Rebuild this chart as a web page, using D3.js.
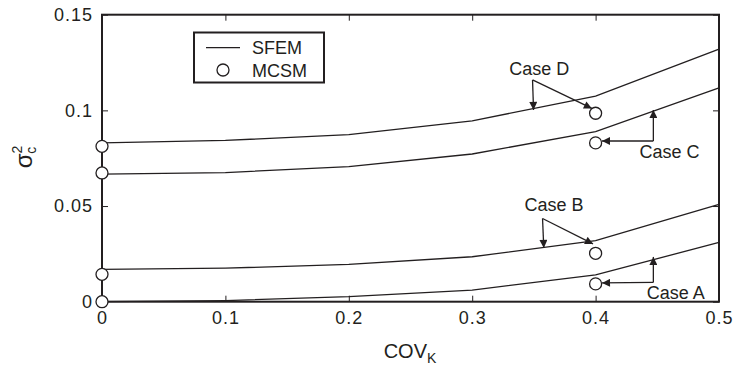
<!DOCTYPE html>
<html><head><meta charset="utf-8">
<script src="https://cdn.jsdelivr.net/npm/d3@7"></script>
<style>
body{margin:0;background:#fff;}
text{font-family:"Liberation Sans",Arial,Helvetica,sans-serif;fill:#231f20;}
</style></head>
<body><svg id="c" width="736" height="367"></svg>
<script>
const covK = [0, 0.1, 0.2, 0.3, 0.4, 0.5];
const sfemD = [0.0830, 0.0843, 0.0873, 0.0945, 0.1075, 0.1320];
const sfemC = [0.0667, 0.0675, 0.0706, 0.0772, 0.0889, 0.1118];
const sfemB = [0.0169, 0.0175, 0.0195, 0.0235, 0.0319, 0.0509];
const sfemA = [0.0000, 0.0006, 0.0026, 0.0061, 0.0140, 0.0310];
const mcsmX = [0, 0.4];
const mcsmD = [0.0812, 0.0985];
const mcsmC = [0.0673, 0.0830];
const mcsmB = [0.0143, 0.0253];
const mcsmA = [0.0000, 0.0093];
const xTicks = [0, 0.1, 0.2, 0.3, 0.4, 0.5];
const xTickLabels = ["0", "0.1", "0.2", "0.3", "0.4", "0.5"];
const yTicks = [0, 0.05, 0.1, 0.15];
const yTickLabels = ["0", "0.05", "0.1", "0.15"];
// annotations in data units
const caseLabels = ["Case D", "Case C", "Case B", "Case A"];
const caseText = [[0.3544, 0.1185], [0.4599, 0.0753], [0.3663, 0.0476], [0.4649, 0.0013]];
const caseArrows = [
  [[0.3489, 0.1159], [0.3497, 0.1002], [0.3489, 0.1159], [0.3970, 0.1010]],
  [[0.4468, 0.0840], [0.4468, 0.1002], [0.4468, 0.0840], [0.4052, 0.0840]],
  [[0.3570, 0.0435], [0.3580, 0.0281], [0.3570, 0.0435], [0.3979, 0.0302]],
  [[0.4468, 0.0101], [0.4468, 0.0234], [0.4468, 0.0101], [0.4052, 0.0098]]
];

const W = 736, H = 367;
const m = {l: 102, t: 14.7, r: 17, b: 65.3};
const svg = d3.select("#c");
const x = d3.scaleLinear().domain([0, 0.5]).range([m.l, W - m.r]);
const y = d3.scaleLinear().domain([0, 0.15]).range([H - m.b, m.t]);
const ink = "#231f20";

svg.append("defs").append("marker").attr("id", "ah")
  .attr("viewBox", "0 0 10 10").attr("refX", 10).attr("refY", 5)
  .attr("markerWidth", 11).attr("markerHeight", 8).attr("markerUnits", "userSpaceOnUse")
  .attr("orient", "auto")
  .append("path").attr("d", "M0,0 L10,5 L0,10 z").attr("fill", ink);

// axes with inward ticks
const xb = svg.append("g").attr("transform", `translate(0,${H - m.b})`)
  .call(d3.axisBottom(x).tickValues(xTicks).tickFormat((d, i) => xTickLabels[i]).tickSizeInner(-6).tickSizeOuter(0).tickPadding(10));
const xt = svg.append("g").attr("transform", `translate(0,${m.t})`)
  .call(d3.axisTop(x).tickValues(xTicks).tickFormat("").tickSizeInner(-6).tickSizeOuter(0));
const yl = svg.append("g").attr("transform", `translate(${m.l},0)`)
  .call(d3.axisLeft(y).tickValues(yTicks).tickFormat((d, i) => yTickLabels[i]).tickSizeInner(-6).tickSizeOuter(0).tickPadding(9));
const yr = svg.append("g").attr("transform", `translate(${W - m.r},0)`)
  .call(d3.axisRight(y).tickValues(yTicks).tickFormat("").tickSizeInner(-6).tickSizeOuter(0));
[xb, xt, yl, yr].forEach(g => {
  g.selectAll(".domain").remove();
  g.selectAll(".tick line").attr("stroke", ink).attr("stroke-width", 1);
  g.selectAll("text").attr("font-size", 18).attr("fill", ink)
    .attr("font-family", "Liberation Sans, Arial, sans-serif").style("letter-spacing", "1px");
});
svg.append("rect").attr("x", m.l).attr("y", m.t)
  .attr("width", W - m.r - m.l).attr("height", H - m.b - m.t)
  .attr("fill", "none").attr("stroke", ink).attr("stroke-width", 2);

// SFEM lines
const line = d3.line().x((d, i) => x(covK[i])).y(d => y(d));
[sfemD, sfemC, sfemB, sfemA].forEach(s => {
  svg.append("path").datum(s).attr("d", line).attr("fill", "none")
    .attr("stroke", ink).attr("stroke-width", 1.3);
});
// MCSM circles
[mcsmD, mcsmC, mcsmB, mcsmA].forEach(s => {
  svg.selectAll(null).data(s).enter().append("circle")
    .attr("cx", (d, i) => x(mcsmX[i])).attr("cy", d => y(d)).attr("r", 6)
    .attr("fill", "#fff").attr("stroke", ink).attr("stroke-width", 1.3);
});

// annotations
caseLabels.forEach((lab, k) => {
  svg.append("text").attr("x", x(caseText[k][0])).attr("y", y(caseText[k][1]))
    .attr("text-anchor", "middle").attr("font-size", 18).text(lab);
  const a = caseArrows[k];
  for (let j = 0; j < 2; j++) {
    svg.append("line")
      .attr("x1", x(a[2 * j][0])).attr("y1", y(a[2 * j][1]))
      .attr("x2", x(a[2 * j + 1][0])).attr("y2", y(a[2 * j + 1][1]))
      .attr("stroke", ink).attr("stroke-width", 1.3).attr("marker-end", "url(#ah)");
  }
});

// legend
const lg = svg.append("g");
lg.append("rect").attr("x", 194).attr("y", 32.5).attr("width", 130).attr("height", 50)
  .attr("fill", "#fff").attr("stroke", ink).attr("stroke-width", 2);
lg.append("line").attr("x1", 206).attr("x2", 240).attr("y1", 47.7).attr("y2", 47.7)
  .attr("stroke", ink).attr("stroke-width", 1.3);
lg.append("circle").attr("cx", 223).attr("cy", 70).attr("r", 6)
  .attr("fill", "#fff").attr("stroke", ink).attr("stroke-width", 1.3);
lg.append("text").attr("x", 252).attr("y", 54).attr("font-size", 18).text("SFEM");
lg.append("text").attr("x", 252).attr("y", 76.5).attr("font-size", 18).text("MCSM");

// axis titles
const xl = svg.append("text").attr("x", 410).attr("y", 358).attr("text-anchor", "middle").attr("font-size", 20);
xl.append("tspan").text("COV");
xl.append("tspan").attr("font-size", 14).attr("dy", 5).text("K");
const ylab = svg.append("text").attr("transform", "translate(32,157) rotate(-90)")
  .attr("text-anchor", "middle").attr("font-size", 24);
ylab.append("tspan").text("σ");
ylab.append("tspan").attr("font-size", 14).attr("dy", -10).text("2");
ylab.append("tspan").attr("font-size", 14).attr("dx", -8).attr("dy", 14).text("c");
</script></body></html>
